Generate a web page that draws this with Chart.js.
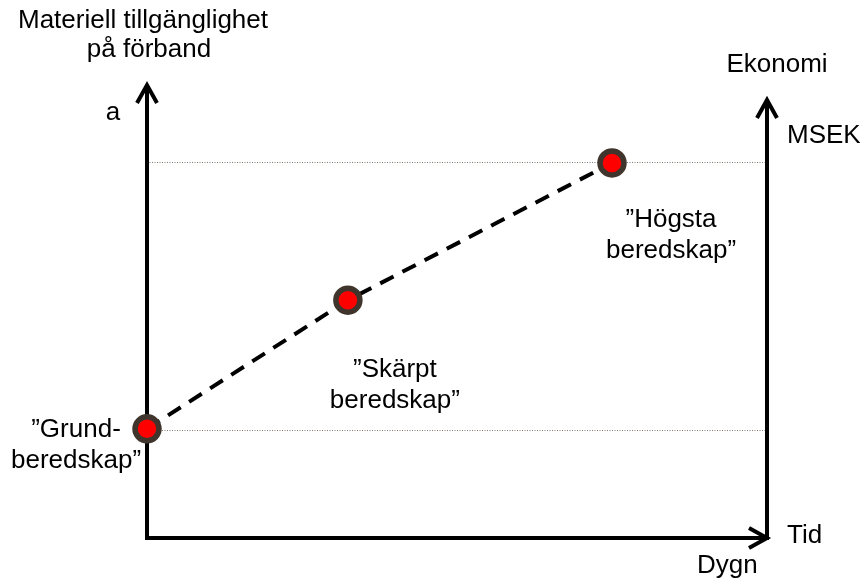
<!DOCTYPE html>
<html>
<head>
<meta charset="utf-8">
<script src="https://cdn.jsdelivr.net/npm/chart.js@4.4.0/dist/chart.umd.min.js"></script>
<style>
  html, body { margin: 0; padding: 0; background: #fff; }
  #wrap { width: 864px; height: 580px; }
</style>
</head>
<body>
<div id="wrap"><canvas id="c" width="864" height="580"></canvas></div>
<script>
// beredskap levels: time (x) vs availability (y), 0-100 conceptual units
const levelNames = ['”Grund-\nberedskap”', '”Skärpt\nberedskap”', '”Högsta\nberedskap”'];
const timeValues = [0, 32.4, 75];
const availValues = [24.1, 52.5, 82.8];
const refLines = [23.8, 83.0];
const rightAxisTop = 96.7;

const FONT = '26px "Liberation Sans", Arial, sans-serif';

function arrowUp(ctx, x, y) {
  ctx.beginPath();
  ctx.moveTo(x - 10, y + 18);
  ctx.lineTo(x, y);
  ctx.lineTo(x + 10, y + 18);
  ctx.stroke();
}

const diagramPlugin = {
  id: 'diagram',
  beforeDatasetsDraw(chart) {
    const { ctx, scales: { x, y } } = chart;
    const x0 = x.getPixelForValue(0), x1 = x.getPixelForValue(100);
    const y0 = y.getPixelForValue(0);

    // dotted reference lines
    ctx.save();
    ctx.strokeStyle = '#857a70';
    ctx.lineWidth = 1;
    ctx.setLineDash([1, 1.5]);
    refLines.forEach(v => {
      const py = Math.round(y.getPixelForValue(v)) + 0.5;
      ctx.beginPath();
      ctx.moveTo(x0, py);
      ctx.lineTo(x1, py);
      ctx.stroke();
    });
    ctx.restore();

    // axes with arrows
    ctx.save();
    ctx.strokeStyle = '#000';
    ctx.lineWidth = 4;
    ctx.lineCap = 'butt';
    ctx.lineJoin = 'miter';
    const yTop = y.getPixelForValue(100);
    ctx.beginPath();
    ctx.moveTo(x0, y0 + 2);
    ctx.lineTo(x0, yTop + 2);
    ctx.stroke();
    arrowUp(ctx, x0, yTop);

    const yTopR = y.getPixelForValue(rightAxisTop);
    ctx.beginPath();
    ctx.moveTo(x1, y0 + 2);
    ctx.lineTo(x1, yTopR + 2);
    ctx.stroke();
    arrowUp(ctx, x1, yTopR);

    ctx.beginPath();
    ctx.moveTo(x0 - 2, y0);
    ctx.lineTo(x1 - 2, y0);
    ctx.stroke();
    ctx.beginPath();
    ctx.moveTo(x1 - 18, y0 - 10);
    ctx.lineTo(x1, y0);
    ctx.lineTo(x1 - 18, y0 + 10);
    ctx.stroke();
    ctx.restore();
  },
  afterDraw(chart) {
    const { ctx, scales: { x, y } } = chart;
    const x0 = x.getPixelForValue(0), x1 = x.getPixelForValue(100);
    const y0 = y.getPixelForValue(0);
    ctx.save();
    ctx.fillStyle = '#000';
    ctx.font = FONT;
    ctx.textBaseline = 'alphabetic';

    // axis titles
    ctx.textAlign = 'center';
    ctx.fillText('Materiell tillgänglighet', x0 - 4, 28);
    ctx.fillText('på förband', x0 + 2, 57);
    ctx.fillText('a', x0 - 34, 120);
    ctx.fillText('Ekonomi', x1 + 10, 72);
    ctx.textAlign = 'left';
    ctx.fillText('MSEK', x1 + 20, 143);
    ctx.fillText('Tid', x1 + 20, y0 + 5);
    ctx.fillText('Dygn', x1 - 70, y0 + 35);

    // level labels
    const offsets = [[-71, 8], [47, 77], [59, 64]];
    const pts = chart.getDatasetMeta(0).data;
    ctx.textAlign = 'center';
    levelNames.forEach((name, i) => {
      const p = pts[i];
      name.split('\n').forEach((t, k) => {
        ctx.fillText(t, p.x + offsets[i][0], p.y + offsets[i][1] + k * 31);
      });
    });
    ctx.restore();
  }
};

new Chart(document.getElementById('c'), {
  type: 'scatter',
  data: {
    datasets: [{
      data: timeValues.map((t, i) => ({ x: t, y: availValues[i] })),
      showLine: true,
      borderColor: '#000',
      borderWidth: 4,
      borderDash: [15, 10],
      pointRadius: 12,
      pointBorderWidth: 5.5,
      pointBackgroundColor: '#ff0000',
      pointBorderColor: '#40352c',
      clip: false
    }]
  },
  options: {
    responsive: false,
    animation: false,
    events: [],
    layout: { padding: { left: 147, right: 97, top: 85, bottom: 42 } },
    plugins: { legend: { display: false }, tooltip: { enabled: false } },
    scales: {
      x: { type: 'linear', min: 0, max: 100, display: false },
      y: { type: 'linear', min: 0, max: 100, display: false }
    }
  },
  plugins: [diagramPlugin]
});
</script>
</body>
</html>
